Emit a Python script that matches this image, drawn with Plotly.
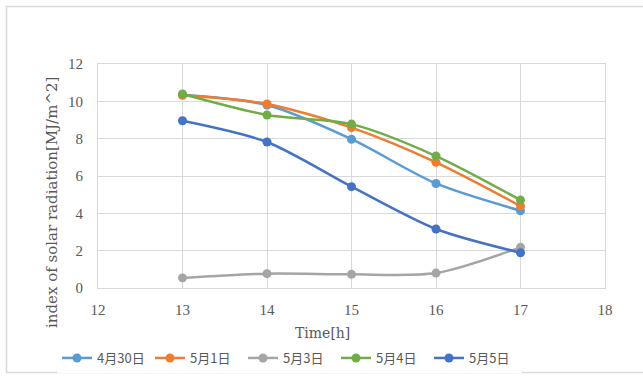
import plotly.graph_objects as go

# Hourly solar radiation index for five days
hours = [13, 14, 15, 16, 17]
series_names = ["4月30日", "5月1日", "5月3日", "5月4日", "5月5日"]
apr30 = [10.35, 9.80, 7.97, 5.60, 4.14]
may1 = [10.32, 9.86, 8.59, 6.73, 4.39]
may3 = [0.54, 0.77, 0.73, 0.80, 2.18]
may4 = [10.39, 9.27, 8.78, 7.07, 4.71]
may5 = [8.96, 7.82, 5.43, 3.16, 1.89]
colors = ["#5B9BD5", "#ED7D31", "#A5A5A5", "#70AD47", "#4472C4"]

x_ticks = [12, 13, 14, 15, 16, 17, 18]
y_ticks = [0, 2, 4, 6, 8, 10, 12]

W, H = 643, 376
L, R, T, B = 98, 38, 64, 88
pw, ph = W - L - R, H - T - B

serif = "Liberation Serif, Noto Serif CJK JP, Noto Sans CJK JP, serif"
wide_serif = "DejaVu Serif, Liberation Serif, serif"
cjk = "Noto Sans CJK JP, Liberation Serif, serif"

fig = go.Figure()
for name, vals, col in zip(series_names, [apr30, may1, may3, may4, may5], colors):
    fig.add_trace(go.Scatter(
        x=hours, y=vals, name=name, mode="lines+markers",
        line=dict(color=col, width=2.5, shape="spline", smoothing=0.8),
        marker=dict(color=col, size=9),
    ))

def px_x(p):
    return (p - L) / pw

def px_y(p):
    return (H - B - p) / ph

fig.update_layout(
    width=W, height=H,
    margin=dict(l=L, r=R, t=T, b=B, autoexpand=False),
    paper_bgcolor="white", plot_bgcolor="white",
    showlegend=True,
    legend=dict(
        orientation="h", x=px_x(57), y=px_y(358), xanchor="left", yanchor="middle",
        font=dict(family=cjk, size=13, color="#595959"),
        entrywidth=48, entrywidthmode="pixels", itemwidth=30,
    ),
    xaxis=dict(
        range=[12, 18], tickvals=x_ticks, ticktext=[str(v) for v in x_ticks],
        showgrid=True, gridcolor="#D9D9D9", gridwidth=1,
        showline=True, linecolor="#D9D9D9", linewidth=1, mirror=True,
        zeroline=False, ticks="outside", ticklen=8, tickcolor="rgba(0,0,0,0)",
        tickfont=dict(family=serif, size=15, color="#595959"),
        automargin=False,
    ),
    yaxis=dict(
        range=[0, 12], tickvals=y_ticks, ticktext=[str(v) for v in y_ticks],
        showgrid=True, gridcolor="#D9D9D9", gridwidth=1,
        showline=True, linecolor="#D9D9D9", linewidth=1, mirror=True,
        zeroline=False, ticks="outside", ticklen=11, tickcolor="rgba(0,0,0,0)",
        tickfont=dict(family=serif, size=15, color="#595959"),
        automargin=False,
    ),
    annotations=[
        dict(
            text="index of solar radiation[MJ/m^2]", textangle=-90,
            xref="paper", yref="paper", x=px_x(52), y=px_y(203),
            xanchor="center", yanchor="middle", showarrow=False,
            font=dict(family=wide_serif, size=15, color="#595959"),
        ),
        dict(
            text="Time[h]", xref="paper", yref="paper",
            x=px_x(322), y=px_y(333), xanchor="center", yanchor="middle", showarrow=False,
            font=dict(family=wide_serif, size=14, color="#595959"),
        ),
    ],
    shapes=[dict(
        type="rect", xref="paper", yref="paper",
        x0=px_x(6.5), x1=px_x(660), y0=px_y(372.5), y1=px_y(6.5),
        line=dict(color="#D9D9D9", width=1.5), fillcolor="rgba(0,0,0,0)", layer="below",
    )],
)

fig.write_html("out.html")
